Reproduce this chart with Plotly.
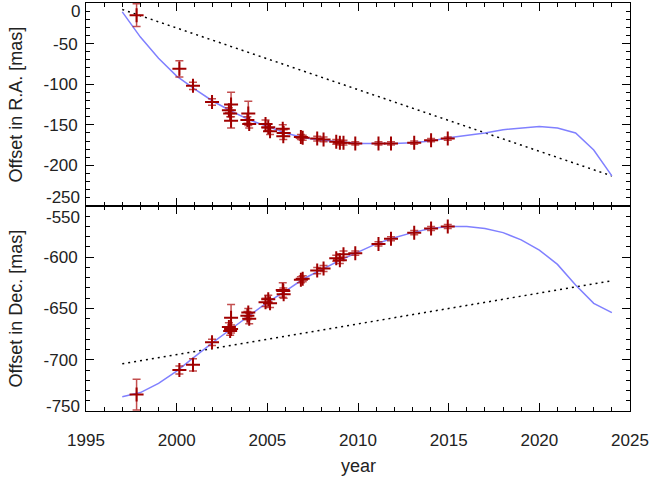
import plotly.graph_objects as go

# ---- data ----
years = [1997.79, 2000.15, 2000.90, 2001.95, 2003.00, 2002.88, 2002.95, 2003.00,
         2003.95, 2003.90, 2004.00, 2004.90, 2005.05, 2005.15, 2005.85, 2005.90,
         2005.88, 2006.85, 2006.95, 2007.75, 2008.10, 2008.80, 2009.00, 2009.20,
         2009.85, 2011.13, 2011.82, 2013.10, 2014.03, 2014.95]
ra = [-15, -81, -102, -122, -125, -132, -136, -145,
      -136, -144, -149, -149, -153, -158, -155, -160,
      -164, -165, -166, -167, -168, -171, -172, -172,
      -173, -173, -173, -172, -169, -167]
ra_err = [14, 10, 4.5, 4, 15, 3, 4, 9,
          15, 4, 5, 5, 4, 4, 5, 4,
          4, 3, 3, 3, 3, 3, 3, 3,
          2, 2, 2, 2, 2, 2]
dec = [-734, -710, -705, -683, -659, -668, -672, -670,
       -654, -657, -660, -644, -641, -645, -632, -636,
       -633, -622, -621, -613, -611, -601, -603, -597,
       -596, -587, -582, -576, -572, -570]
dec_err = [15, 4, 6, 3, 13, 4, 4, 4,
           4, 4, 5, 4, 4, 4, 7, 4,
           3, 3, 3, 3, 3, 3, 3, 3,
           2, 2, 2, 2, 2, 2]

fit_years = list(range(1997, 2025))
fit_ra = [-11, -42, -68, -90, -106, -121, -133, -144, -152, -160, -166, -169, -171, -173,
          -173, -173, -172, -170, -166, -163, -160, -156, -154, -152, -154, -160, -181, -213]
fit_dec = [-736, -732, -723, -711, -697, -683, -670, -657, -644, -633, -621, -612, -603, -595,
           -587, -581, -576, -572, -570, -570, -572, -576, -583, -593, -607, -627, -645, -654]

lin_years = [1997, 2024]
lin_ra = [-8, -213]
lin_dec = [-704, -623]

ra_ticks = [0, -50, -100, -150, -200, -250]
dec_ticks = [-550, -600, -650, -700, -750]
year_ticks = [1995, 2000, 2005, 2010, 2015, 2020, 2025]

FONT = "Liberation Sans, Arial, Helvetica, sans-serif"
TXT = "#222222"
RED = "#a00000"
ERR = "rgba(175,20,20,0.75)"
BLUE = "#8080ff"

fig = go.Figure()

for (yv, lin, xa, ya) in [(fit_ra, lin_ra, "x", "y"), (fit_dec, lin_dec, "x2", "y2")]:
    fig.add_trace(go.Scatter(x=lin_years, y=lin, mode="lines", xaxis=xa, yaxis=ya,
                             line=dict(color="black", width=1.5, dash="2px,4px"), showlegend=False))
    fig.add_trace(go.Scatter(x=fit_years, y=yv, mode="lines", xaxis=xa, yaxis=ya,
                             line=dict(color=BLUE, width=1.5), showlegend=False))

for (yv, ev, xa, ya) in [(ra, ra_err, "x", "y"), (dec, dec_err, "x2", "y2")]:
    fig.add_trace(go.Scatter(
        x=years, y=yv, mode="markers", xaxis=xa, yaxis=ya, showlegend=False,
        marker=dict(symbol="cross-thin", size=10, color=RED, line=dict(color=RED, width=2)),
        error_y=dict(type="data", array=ev, color=ERR, thickness=1.5, width=4)))

tick_common = dict(ticks="inside", ticklen=8, tickwidth=1, tickcolor="black",
                   showline=True, linecolor="black", linewidth=1, mirror="ticks",
                   showgrid=False, zeroline=False,
                   tickfont=dict(family=FONT, size=17, color=TXT))

DOM = 0.5025
fig.update_layout(
    width=651, height=479,
    margin=dict(l=86, r=21, t=3, b=68),
    paper_bgcolor="white", plot_bgcolor="white",
    font=dict(family=FONT, size=17, color=TXT),
    xaxis=dict(range=[1995, 2025], anchor="y", tickvals=year_ticks, showticklabels=False,
               minor=dict(dtick=1, tick0=1995, ticklen=4, ticks="inside", tickcolor="black"),
               **tick_common),
    yaxis=dict(range=[-250, 0], domain=[DOM, 1], anchor="x", tickvals=ra_ticks,
               ticktext=["" if v in (0, -250) else str(v) for v in ra_ticks],
               ticklabelstandoff=4,
               minor=dict(dtick=10, tick0=0, ticklen=4, ticks="inside", tickcolor="black"),
               **tick_common),
    xaxis2=dict(range=[1995, 2025], anchor="y2", tickvals=year_ticks,
                ticktext=[str(v) for v in year_ticks], ticklabelstandoff=14,
                minor=dict(dtick=1, tick0=1995, ticklen=4, ticks="inside", tickcolor="black"),
                **tick_common),
    yaxis2=dict(range=[-750, -550], domain=[0, DOM], anchor="x2", tickvals=dec_ticks,
                ticktext=["" if v in (-550, -750) else str(v) for v in dec_ticks],
                ticklabelstandoff=4,
                minor=dict(dtick=10, tick0=-550, ticklen=4, ticks="inside", tickcolor="black"),
                **tick_common),
)

annots = []
# edge tick labels shifted inward
for val, ya, shift in [(0, "y", -8), (-250, "y", 8), (-550, "y2", -12), (-750, "y2", 5)]:
    annots.append(dict(x=0, xref="paper", y=val, yref=ya, text=str(val), showarrow=False,
                       xanchor="right", yanchor="middle", xshift=-5, yshift=shift, borderpad=0,
                       font=dict(family=FONT, size=17, color=TXT)))
annots.append(dict(x=-0.127, xref="paper", y=(DOM + 1) / 2, yref="paper",
                   text="Offset in R.A. [mas]", textangle=-90, showarrow=False,
                   xanchor="center", yanchor="middle", font=dict(family=FONT, size=18, color=TXT)))
annots.append(dict(x=-0.127, xref="paper", y=DOM / 2, yref="paper",
                   text="Offset in Dec. [mas]", textangle=-90, showarrow=False,
                   xanchor="center", yanchor="middle", font=dict(family=FONT, size=18, color=TXT)))
annots.append(dict(x=0.5, xref="paper", y=-(466 - 411) / 408, yref="paper",
                   text="year", showarrow=False, xanchor="center", yanchor="middle",
                   font=dict(family=FONT, size=18, color=TXT)))
fig.update_layout(annotations=annots)

fig.write_html("out.html", config={"displayModeBar": False},
               post_script="document.body.style.margin='0px';document.body.style.overflow='hidden';")
